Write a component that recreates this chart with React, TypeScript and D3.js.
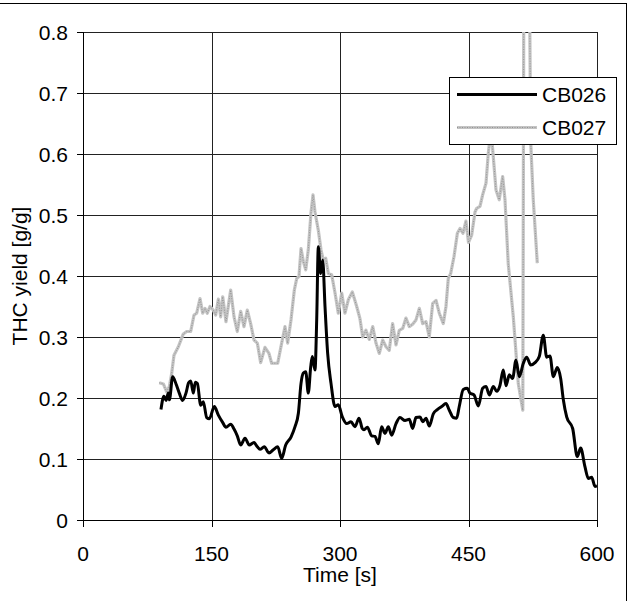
import React from "react";
import * as d3 from "d3";

const xTicks = [0, 150, 300, 450, 600];
const yTicks = [0, 0.1, 0.2, 0.3, 0.4, 0.5, 0.6, 0.7, 0.8];
const seriesNames = ["CB026", "CB027"];

const timeCB026 = [
  91, 94.5, 97, 99.6, 100.8, 104.7, 108.6, 112.4, 116.3, 120.2, 123.3, 125.7, 128.8, 131.1, 133.5,
  137.4, 140.4, 144.4, 147.5, 153.3, 158, 163, 166.9, 172.4, 176.3, 180.1, 184.1, 189.1, 194.1,
  199.6, 203.5, 206.6, 211.6, 217.1, 222.1, 227.3, 231.9, 236.6, 242.8, 247.5, 251.4, 254.5, 257.2,
  260, 263, 265.8, 267.7, 270.8, 272.8, 274.7, 277.4, 279.8, 282.5, 285.6, 289.5, 294.2, 298, 302.7,
  307.8, 312.8, 317.5, 322.2, 326, 328, 331.9, 337, 340.9, 344.7, 348.6, 352.5, 356.4, 360.3, 365.4,
  370, 375.9, 380.9, 384.8, 388.7, 393.4, 396.5, 400.4, 404.2, 408.9, 413.6, 418.7, 423.7, 427.6,
  432.2, 436.2, 439.2, 443.9, 448.5, 451.7, 456.4, 461.5, 466.5, 470.4, 474.3, 479, 482.9, 486.8,
  490.6, 493.8, 497.6, 501.5, 505.4, 509.3, 514, 517.9, 522.6, 527.6, 532.6, 537.3, 541.3, 545.1,
  549, 553.6, 557.6, 560.7, 564.6, 571.6, 577, 580.9, 586, 589.9, 593.8, 597.7, 600,
];
const yieldCB026 = [
  0.181, 0.203, 0.196, 0.208, 0.197, 0.235, 0.223, 0.208, 0.196, 0.208, 0.225, 0.228, 0.208, 0.226, 0.224,
  0.188, 0.194, 0.168, 0.166, 0.186, 0.172, 0.16, 0.152, 0.157, 0.149, 0.138, 0.123, 0.134, 0.123,
  0.127, 0.12, 0.116, 0.12, 0.11, 0.115, 0.12, 0.101, 0.123, 0.136, 0.153, 0.175, 0.224, 0.241,
  0.243, 0.208, 0.251, 0.268, 0.246, 0.328, 0.448, 0.404, 0.426, 0.35, 0.273, 0.224, 0.186, 0.189, 0.169,
  0.158, 0.161, 0.153, 0.167, 0.15, 0.148, 0.152, 0.138, 0.137, 0.125, 0.153, 0.142, 0.153, 0.139, 0.158,
  0.168, 0.163, 0.165, 0.15, 0.168, 0.169, 0.161, 0.167, 0.154, 0.174, 0.181, 0.186, 0.191, 0.18,
  0.168, 0.167, 0.186, 0.214, 0.216, 0.208, 0.205, 0.187, 0.216, 0.219, 0.205, 0.219, 0.211, 0.221,
  0.246, 0.22, 0.238, 0.232, 0.262, 0.235, 0.257, 0.267, 0.254, 0.258, 0.268, 0.303, 0.267, 0.269,
  0.235, 0.25, 0.232, 0.197, 0.169, 0.15, 0.104, 0.118, 0.087, 0.068, 0.07, 0.055, 0.056,
];

const timeCB027 = [
  89, 93.8, 97.7, 100.8, 103.5, 106.2, 111.3, 117.1, 121, 125.7, 129.6, 132.7, 136.6, 139.7, 142.4,
  145.1, 148.2, 152.1, 154.9, 158, 160.7, 163.1, 166.9, 172.4, 176.3, 180.1, 184.1, 187.9, 191.8,
  195.7, 199.6, 203.5, 207.4, 212.4, 217.1, 220.2, 227.3, 231.9, 235.8, 238.9, 242.8, 246.7, 249.5,
  252.1, 254.5, 257.2, 260, 263, 266.1, 268.5, 270.8, 274.7, 277.8, 280.5, 283.3, 286.4, 290.3, 294.2,
  298, 302, 305.8, 309.7, 314.4, 319.5, 323.3, 326.5, 330.3, 334.2, 338.2, 342, 345.9, 349.8, 353.7,
  357.5, 361.4, 365.4, 369.2, 373.2, 377, 380.9, 384.8, 388.7, 392.6, 396.5, 400.4, 404.2, 408.2,
  412.1, 415.9, 420.6, 423.7, 426.4, 429.2, 433.1, 437, 440.1, 443.5, 447, 450, 453.7, 457.6, 459.6,
  463.4, 466.5, 470.4, 473.1, 476.3, 478.9, 482.1, 485.9, 489.9, 492.6, 496.4, 502.3, 508.1, 513.4,
  514.7, 520.8, 521.6, 522.6, 525.6, 530.3,
];
const yieldCB027 = [
  0.225, 0.223, 0.21, 0.219, 0.24, 0.27, 0.284, 0.305, 0.309, 0.309, 0.336, 0.339, 0.363, 0.339, 0.347,
  0.339, 0.35, 0.344, 0.336, 0.362, 0.333, 0.366, 0.325, 0.377, 0.333, 0.309, 0.342, 0.317, 0.344,
  0.322, 0.295, 0.29, 0.258, 0.283, 0.273, 0.257, 0.257, 0.29, 0.317, 0.29, 0.328, 0.377, 0.396,
  0.399, 0.445, 0.424, 0.41, 0.443, 0.503, 0.533, 0.505, 0.475, 0.443, 0.426, 0.429, 0.404, 0.402, 0.372,
  0.339, 0.372, 0.339, 0.361, 0.374, 0.35, 0.33, 0.3, 0.311, 0.296, 0.317, 0.29, 0.273, 0.295, 0.284,
  0.278, 0.322, 0.287, 0.311, 0.314, 0.331, 0.317, 0.321, 0.328, 0.347, 0.322, 0.325, 0.3, 0.355,
  0.36, 0.339, 0.322, 0.35, 0.396, 0.404, 0.432, 0.47, 0.478, 0.47, 0.49, 0.455, 0.467, 0.505, 0.511,
  0.514, 0.533, 0.552, 0.601, 0.64, 0.596, 0.541, 0.525, 0.563, 0.525, 0.42, 0.333, 0.224, 0.18,
  0.95, 0.95, 0.8, 0.62, 0.525, 0.421,
];

const W = 636;
const H = 601;
const left = 83;
const right = 597;
const top = 32;
const bottom = 520;
const FONT = "'Liberation Sans', Arial, sans-serif";

export default function App() {
  const x = d3.scaleLinear().domain([0, 600]).range([left, right]);
  const y = d3.scaleLinear().domain([0, 0.8]).range([bottom, top]);

  const d026 = timeCB026.map((t, i) => [t, yieldCB026[i]] as [number, number]);
  const d027 = timeCB027.map((t, i) => [t, yieldCB027[i]] as [number, number]);

  const lineSmooth = d3
    .line<[number, number]>()
    .x((d) => x(d[0]))
    .y((d) => y(d[1]))
    .curve(d3.curveMonotoneX);
  const lineGray = d3
    .line<[number, number]>()
    .x((d) => x(d[0]))
    .y((d) => y(d[1]))
    .curve(d3.curveLinear);

  const crisp = (v: number) => Math.round(v) + 0.5;

  return (
    <svg
      width={W}
      height={H}
      style={{ position: "absolute", left: 0, top: 0, background: "#fff" }}
      fontFamily={FONT}
    >
      <defs>
        <clipPath id="plotclip">
          <rect x={left} y={top} width={right - left} height={bottom - top} />
        </clipPath>
      </defs>
      <rect x={-2} y={3.5} width={628.5} height={610} fill="#fff" stroke="#000" strokeWidth={1} />

      {/* grid */}
      {yTicks.map((t) => (
        <line key={"gy" + t} x1={left} x2={right} y1={crisp(y(t))} y2={crisp(y(t))} stroke="#222" strokeWidth={1} />
      ))}
      {xTicks.map((t) => (
        <line key={"gx" + t} x1={crisp(x(t))} x2={crisp(x(t))} y1={top} y2={bottom} stroke="#222" strokeWidth={1} />
      ))}
      {/* ticks */}
      {yTicks.map((t) => (
        <line key={"ty" + t} x1={left - 6} x2={left} y1={crisp(y(t))} y2={crisp(y(t))} stroke="#000" strokeWidth={1} />
      ))}
      {xTicks.map((t) => (
        <line key={"tx" + t} x1={crisp(x(t))} x2={crisp(x(t))} y1={bottom} y2={bottom + 7} stroke="#000" strokeWidth={1} />
      ))}

      {/* series */}
      <g clipPath="url(#plotclip)">
        <path d={lineGray(d027) || ""} fill="none" stroke="#c4c4c4" strokeWidth={3.2} strokeLinejoin="round" />
        <path d={lineGray(d027) || ""} fill="none" stroke="#8e8e8e" strokeWidth={0.9} strokeDasharray="1 1.5" />
        <path d={lineSmooth(d026) || ""} fill="none" stroke="#000" strokeWidth={3} strokeLinejoin="round" />
      </g>

      {/* axes lines */}
      <line x1={crisp(left)} x2={crisp(left)} y1={top} y2={bottom + 7} stroke="#000" strokeWidth={1} />
      <line x1={left - 6} x2={right} y1={crisp(bottom)} y2={crisp(bottom)} stroke="#000" strokeWidth={1} />

      {/* tick labels */}
      {yTicks.map((t) => (
        <text key={"ly" + t} x={68} y={y(t)} dy="0.36em" textAnchor="end" fontSize={21} fill="#000">
          {t === 0 ? "0" : t.toFixed(1)}
        </text>
      ))}
      {xTicks.map((t) => (
        <text key={"lx" + t} x={x(t)} y={561} textAnchor="middle" fontSize={21} fill="#000">
          {t}
        </text>
      ))}
      <text x={(left + right) / 2} y={582} textAnchor="middle" fontSize={21} fill="#000">
        Time [s]
      </text>
      <text
        transform={`translate(27, ${(top + bottom) / 2}) rotate(-90)`}
        textAnchor="middle"
        fontSize={21}
        fill="#000"
      >
        THC yield [g/g]
      </text>

      {/* legend */}
      <rect x={449.5} y={77.5} width={167} height={67} fill="#fff" stroke="#000" strokeWidth={1} />
      <line x1={457} x2={537} y1={94.5} y2={94.5} stroke="#000" strokeWidth={3} />
      <line x1={457} x2={537} y1={127.5} y2={127.5} stroke="#c4c4c4" strokeWidth={3.2} />
      <line x1={457} x2={537} y1={127.5} y2={127.5} stroke="#8e8e8e" strokeWidth={0.9} strokeDasharray="1 1.5" />
      <text x={542} y={102} fontSize={21} fill="#000">
        {seriesNames[0]}
      </text>
      <text x={542} y={135} fontSize={21} fill="#000">
        {seriesNames[1]}
      </text>
    </svg>
  );
}
